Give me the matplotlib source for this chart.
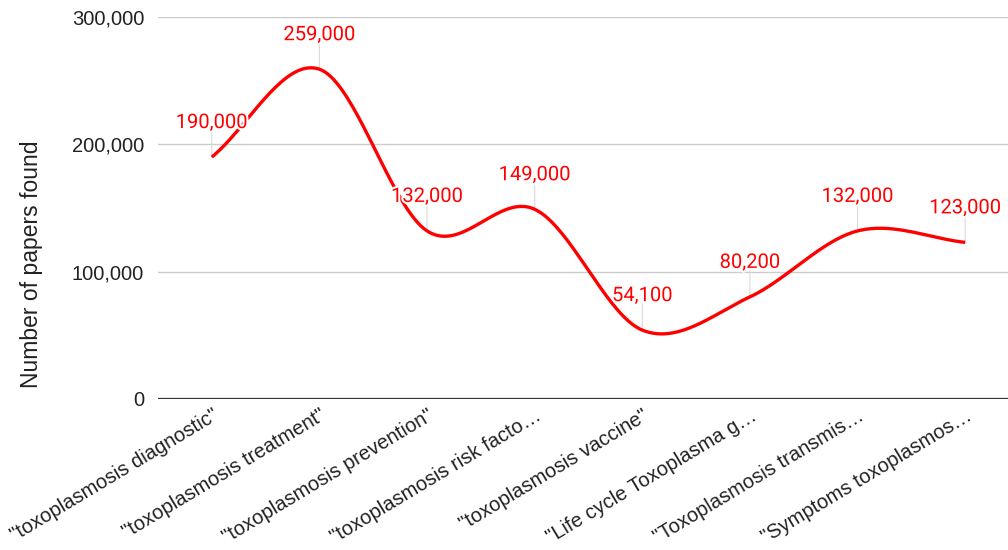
import numpy as np
import matplotlib
matplotlib.use("Agg")
import matplotlib.pyplot as plt
import matplotlib.patheffects as pe
from matplotlib.ticker import FuncFormatter

plt.rcParams["font.family"] = ["Liberation Sans", "DejaVu Sans"]

# ---------------------------------------------------------------- data
categories = [
    '"toxoplasmosis diagnostic"',
    '"toxoplasmosis treatment"',
    '"toxoplasmosis prevention"',
    '"toxoplasmosis risk facto\u2026',
    '"toxoplasmosis vaccine"',
    '"Life cycle Toxoplasma g\u2026',
    '"Toxoplasmosis transmis\u2026',
    '"Symptoms toxoplasmos\u2026',
]
papers = [190000, 259000, 132000, 149000, 54100, 80200, 132000, 123000]
point_labels = ["190,000", "259,000", "132,000", "149,000",
                "54,100", "80,200", "132,000", "123,000"]
y_ticks = [0, 100000, 200000, 300000]

RED = "#ff0000"


def smooth_curve(x, y, steps=40):
    """Catmull-Rom spline through the points (drawing only)."""
    x = np.asarray(x, float)
    y = np.asarray(y, float)
    px = np.concatenate([[2 * x[0] - x[1]], x, [2 * x[-1] - x[-2]]])
    py = np.concatenate([[2 * y[0] - y[1]], y, [2 * y[-1] - y[-2]]])
    xs, ys = [], []
    t = np.linspace(0, 1, steps)
    for i in range(1, len(px) - 2):
        for arr, out in ((px, xs), (py, ys)):
            p0, p1, p2, p3 = arr[i - 1], arr[i], arr[i + 1], arr[i + 2]
            out.append(0.5 * ((2 * p1) + (-p0 + p2) * t
                              + (2 * p0 - 5 * p1 + 4 * p2 - p3) * t ** 2
                              + (-p0 + 3 * p1 - 3 * p2 + p3) * t ** 3))
    return np.concatenate(xs), np.concatenate(ys)


fig = plt.figure(figsize=(10.08, 5.5), dpi=100)
ax = fig.add_axes([158 / 1008, 151 / 550, 850 / 1008, 382 / 550])

xpos = np.arange(len(categories))
sx, sy = smooth_curve(xpos, papers)

# gridlines
for v in y_ticks[1:]:
    ax.axhline(v, color="#cccccc", linewidth=1.0, zorder=0)
ax.axhline(0, color="#333333", linewidth=1.6, zorder=1)

# leader lines + labels
for xi, yi, lab in zip(xpos, papers, point_labels):
    ax.annotate("", xy=(xi, yi), xytext=(0, 19), textcoords="offset points",
                arrowprops=dict(arrowstyle="-", color="#d9d9d9", lw=0.8,
                                shrinkA=0, shrinkB=0), zorder=2)
    ax.annotate(lab, xy=(xi, yi), xytext=(0, 18), textcoords="offset points",
                ha="center", va="bottom", color=RED, fontsize=14.5,
                family=["Roboto", "DejaVu Sans"], zorder=4,
                path_effects=[pe.withStroke(linewidth=3, foreground="white")])

ax.plot(sx, sy, color=RED, linewidth=2.4, zorder=3, solid_capstyle="butt")

ax.set_xlim(-0.5, 7.5 - 11 / 107.6)
ax.set_ylim(0, 300000)
ax.set_yticks(y_ticks)
ax.yaxis.set_major_formatter(FuncFormatter(lambda v, _: f"{int(v):,}"))
ax.set_xticks(xpos)
ax.set_xticklabels(categories, rotation=31, ha="right", va="top",
                   rotation_mode="anchor", fontsize=14.5, color="#222222")
ax.tick_params(axis="y", length=0, labelsize=14.5, pad=10, colors="#222222")
ax.tick_params(axis="x", length=0, pad=5)
for s in ax.spines.values():
    s.set_visible(False)
ax.set_ylabel("Number of papers found", fontsize=16.5, color="#222222",
              va="center")
ax.yaxis.set_label_coords(-0.149, 0.353)

fig.savefig("out.png", dpi=100)
